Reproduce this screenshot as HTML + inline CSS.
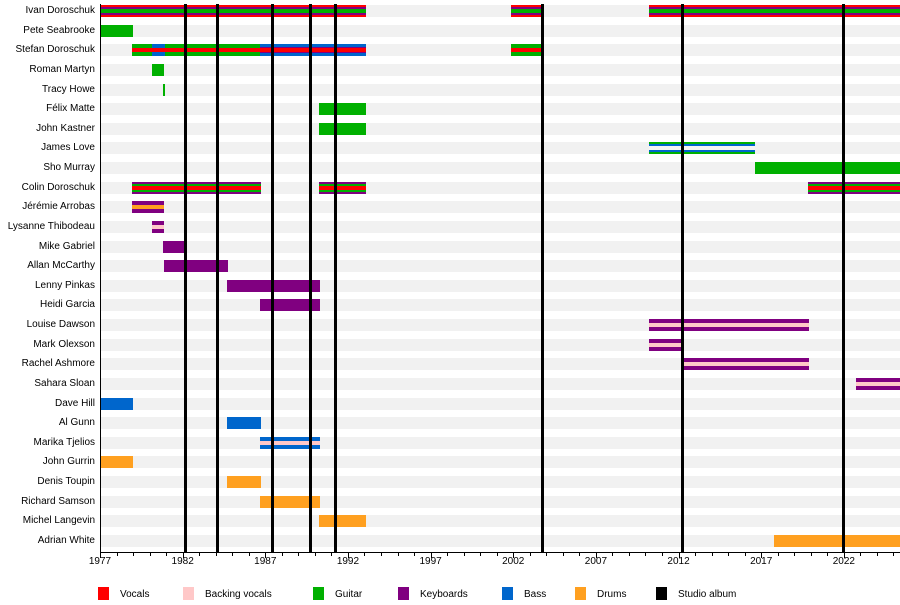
<!DOCTYPE html>
<html><head><meta charset="utf-8"><style>
body{margin:0;width:900px;height:605px;background:#fff;font-family:"Liberation Sans",sans-serif;position:relative;overflow:hidden}
div{position:absolute}
.l{left:0;width:95px;text-align:right;font-size:10px;color:#000;white-space:nowrap;line-height:12px}
.t{font-size:10px;line-height:12px;white-space:nowrap;color:#000}
</style></head><body>
<div id="c" style="left:0;top:0;width:900px;height:605px"></div>
<script>
var c=document.getElementById('c'),h='';
var X=function(y){return 100+(y-1977)*16.53};
var R='#ff0000',G='#00b000',P='#800080',B='#0066cc',O='#ffa020',K='#ffc8c8';
var names=["Ivan Doroschuk","Pete Seabrooke","Stefan Doroschuk","Roman Martyn","Tracy Howe","Félix Matte","John Kastner","James Love","Sho Murray","Colin Doroschuk","Jérémie Arrobas","Lysanne Thibodeau","Mike Gabriel","Allan McCarthy","Lenny Pinkas","Heidi Garcia","Louise Dawson","Mark Olexson","Rachel Ashmore","Sahara Sloan","Dave Hill","Al Gunn","Marika Tjelios","John Gurrin","Denis Toupin","Richard Samson","Michel Langevin","Adrian White"];
function cy(i){return 11+i*19.63}
names.forEach(function(n,i){var y=cy(i);
h+='<div style="left:100px;width:800px;top:'+(y-6)+'px;height:12px;background:#f1f1f1"></div>';
h+='<div class="l" style="top:'+(y-6)+'px">'+n+'</div>';});
function bar(i,a,b,L){var y=cy(i)-6;L.forEach(function(l){h+='<div style="left:'+a+'px;width:'+(b-a)+'px;top:'+(y+l[1])+'px;height:'+(12-2*l[1])+'px;background:'+l[0]+'"></div>';});}
var ivan=[[R,0],[P,2],[G,4]];
bar(0,100,366,ivan);bar(0,511,544,ivan);bar(0,649,900,ivan);
bar(1,100,133,[[G,0]]);
bar(2,132,366,[[G,0],[R,4]]);bar(2,152,165,[[B,0],[R,4]]);bar(2,260,366,[[B,0],[P,3],[R,4]]);bar(2,511,544,[[G,0],[R,4]]);
bar(3,152,164,[[G,0]]);bar(4,163,165,[[G,0]]);
bar(5,319,366,[[G,0]]);bar(6,319,366,[[G,0]]);
bar(7,649,755,[[G,0],[B,2],['#f4f4f4',4]]);
bar(8,755,900,[[G,0]]);
var col=[[P,0],[G,2],[R,4]];
bar(9,132,261,col);bar(9,319,366,col);bar(9,808,900,col);
bar(10,132,164,[[P,0],[O,4]]);
bar(11,152,164,[[P,0],[K,4]]);
bar(12,163,185,[[P,0]]);bar(13,164,228,[[P,0]]);bar(14,227,320,[[P,0]]);bar(15,260,320,[[P,0]]);
bar(16,649,809,[[P,0],[K,4]]);bar(17,649,683,[[P,0],[K,4]]);bar(18,682,809,[[P,0],[K,4]]);bar(19,856,900,[[P,0],[K,4]]);
bar(20,100,133,[[B,0]]);bar(21,227,261,[[B,0]]);bar(22,260,320,[[B,0],[K,4]]);
bar(23,100,133,[[O,0]]);bar(24,227,261,[[O,0]]);bar(25,260,320,[[O,0]]);bar(26,319,366,[[O,0]]);bar(27,774,900,[[O,0]]);
[185,217,272,310,335,542,682,843].forEach(function(x){h+='<div style="left:'+(x-1.5)+'px;width:3px;top:4px;height:548px;background:#000"></div>';});
h+='<div style="left:100px;width:1px;top:4px;height:549px;background:#000"></div>';
h+='<div style="left:100px;width:800px;top:552px;height:1px;background:#000"></div>';
for(var yr=1977;yr<=2025;yr++){var x=X(yr),maj=(yr-1977)%5==0;
h+='<div style="left:'+Math.round(x)+'px;width:1px;top:553px;height:'+(maj?5:3)+'px;background:#000"></div>';
if(maj)h+='<div class="t" style="left:'+(x-15)+'px;width:30px;text-align:center;top:556px">'+yr+'</div>';}
var leg=[[R,'Vocals',98],['#ffc8c8','Backing vocals',183],[G,'Guitar',313],[P,'Keyboards',398],[B,'Bass',502],[O,'Drums',575],['#000','Studio album',656]];
leg.forEach(function(l){h+='<div style="left:'+l[2]+'px;top:587px;width:11px;height:13px;background:'+l[0]+'"></div><div class="t" style="left:'+(l[2]+22)+'px;top:589px">'+l[1]+'</div>';});
c.innerHTML=h;
</script>
</body></html>
